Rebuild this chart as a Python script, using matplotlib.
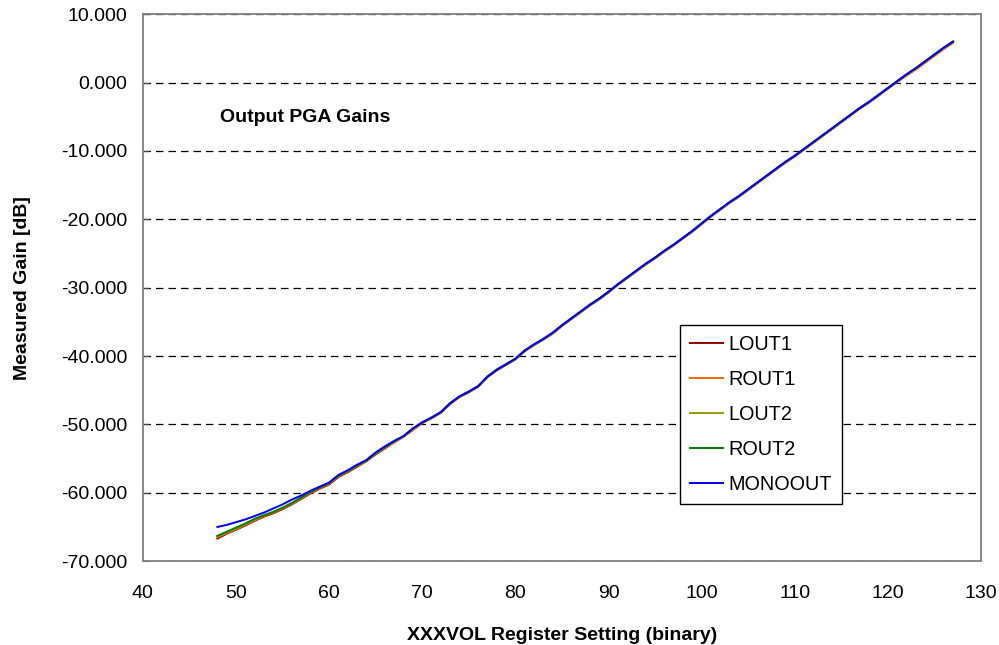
import matplotlib
matplotlib.use("Agg")
import matplotlib.pyplot as plt
from matplotlib.ticker import FormatStrFormatter, MultipleLocator

plt.rcParams["font.family"] = ["Liberation Sans", "DejaVu Sans"]

# =====================================
# DATA
# =====================================

register = list(range(48, 128))

lout1 = [
    -66.7, -66.0, -65.4, -64.8, -64.1, -63.5, -63.0, -62.4, -61.7, -60.9,
    -60.1, -59.4, -58.8, -57.7, -57.0, -56.2, -55.4, -54.4, -53.5, -52.6,
    -51.8, -50.8, -49.8, -49.1, -48.3, -47.0, -46.0, -45.3, -44.5, -43.1,
    -42.1, -41.3, -40.5, -39.3, -38.4, -37.6, -36.7, -35.6, -34.6, -33.6,
    -32.6, -31.7, -30.7, -29.6, -28.6, -27.6, -26.6, -25.7, -24.7, -23.8,
    -22.8, -21.8, -20.7, -19.6, -18.6, -17.6, -16.7, -15.7, -14.7, -13.7,
    -12.7, -11.7, -10.8, -9.8, -8.8, -7.8, -6.8, -5.8, -4.8, -3.8,
    -2.9, -1.9, -0.9, 0.1, 1.1, 2.0, 3.0, 4.0, 5.0, 5.9,
]
rout1 = [
    -66.5, -65.9, -65.3, -64.7, -64.0, -63.4, -62.9, -62.3, -61.6, -60.8,
    -60.0, -59.3, -58.7, -57.6, -56.9, -56.1, -55.4, -54.3, -53.4, -52.6,
    -51.8, -50.8, -49.8, -49.1, -48.3, -47.0, -46.0, -45.3, -44.5, -43.1,
    -42.1, -41.3, -40.5, -39.3, -38.4, -37.6, -36.7, -35.6, -34.6, -33.6,
    -32.6, -31.7, -30.7, -29.6, -28.6, -27.6, -26.6, -25.7, -24.7, -23.8,
    -22.8, -21.8, -20.7, -19.6, -18.6, -17.6, -16.7, -15.7, -14.7, -13.7,
    -12.7, -11.7, -10.8, -9.8, -8.8, -7.8, -6.8, -5.8, -4.8, -3.8,
    -2.9, -1.9, -0.9, 0.1, 1.0, 1.9, 2.9, 3.9, 4.9, 5.8,
]
lout2 = [
    -66.4, -65.8, -65.2, -64.6, -63.9, -63.3, -62.8, -62.2, -61.5, -60.7,
    -59.9, -59.2, -58.6, -57.5, -56.8, -56.0, -55.3, -54.2, -53.3, -52.5,
    -51.7, -50.6, -49.7, -49.0, -48.2, -46.9, -45.9, -45.2, -44.4, -43.0,
    -42.0, -41.2, -40.4, -39.2, -38.3, -37.5, -36.6, -35.5, -34.5, -33.5,
    -32.5, -31.6, -30.6, -29.5, -28.5, -27.5, -26.5, -25.6, -24.6, -23.7,
    -22.7, -21.7, -20.6, -19.5, -18.5, -17.5, -16.6, -15.6, -14.6, -13.6,
    -12.6, -11.6, -10.7, -9.7, -8.7, -7.7, -6.7, -5.7, -4.7, -3.7,
    -2.8, -1.8, -0.8, 0.2, 1.2, 2.1, 3.1, 4.1, 5.1, 6.0,
]
rout2 = [
    -66.3, -65.7, -65.1, -64.5, -63.8, -63.3, -62.8, -62.2, -61.5, -60.7,
    -59.9, -59.2, -58.6, -57.5, -56.8, -56.0, -55.3, -54.2, -53.3, -52.5,
    -51.7, -50.6, -49.7, -49.0, -48.2, -46.9, -45.9, -45.2, -44.4, -43.0,
    -42.0, -41.2, -40.4, -39.2, -38.3, -37.5, -36.6, -35.5, -34.5, -33.5,
    -32.5, -31.6, -30.6, -29.5, -28.5, -27.5, -26.5, -25.6, -24.6, -23.7,
    -22.7, -21.7, -20.6, -19.5, -18.5, -17.5, -16.6, -15.6, -14.6, -13.6,
    -12.6, -11.6, -10.7, -9.7, -8.7, -7.7, -6.7, -5.7, -4.7, -3.7,
    -2.8, -1.8, -0.8, 0.2, 1.2, 2.1, 3.1, 4.1, 5.1, 6.0,
]
monoout = [
    -65.0, -64.7, -64.3, -63.9, -63.4, -62.9, -62.3, -61.7, -61.0, -60.4,
    -59.7, -59.1, -58.5, -57.4, -56.7, -55.9, -55.2, -54.1, -53.2, -52.4,
    -51.7, -50.6, -49.7, -49.0, -48.2, -46.9, -45.9, -45.2, -44.4, -43.0,
    -42.0, -41.2, -40.4, -39.2, -38.3, -37.5, -36.6, -35.5, -34.5, -33.5,
    -32.5, -31.6, -30.6, -29.5, -28.5, -27.5, -26.5, -25.6, -24.6, -23.7,
    -22.7, -21.7, -20.6, -19.5, -18.5, -17.5, -16.6, -15.6, -14.6, -13.6,
    -12.6, -11.6, -10.7, -9.7, -8.7, -7.7, -6.7, -5.7, -4.7, -3.7,
    -2.8, -1.8, -0.8, 0.2, 1.2, 2.1, 3.1, 4.1, 5.1, 6.0,
]

series_names = ["LOUT1", "ROUT1", "LOUT2", "ROUT2", "MONOOUT"]
series_values = [lout1, rout1, lout2, rout2, monoout]
series_colors = ["#990000", "#ff6600", "#999900", "#008000", "#0000ff"]

# =====================================
# PLOT
# =====================================

fig = plt.figure(figsize=(9.99, 6.45), dpi=100)
ax = fig.add_axes([0.143, 0.130, 0.839, 0.848])

for name, vals, col in zip(series_names, series_values, series_colors):
    ax.plot(register, vals, color=col, linewidth=1.4, label=name)

ax.set_xlim(40, 130)
ax.set_ylim(-70, 10)
ax.xaxis.set_major_locator(MultipleLocator(10))
ax.yaxis.set_major_locator(MultipleLocator(10))
ax.yaxis.set_major_formatter(FormatStrFormatter("%.3f"))

ax.grid(axis="y", color="black", linestyle=(0, (6, 4)), linewidth=0.9)
ax.set_axisbelow(True)

for sp in ax.spines.values():
    sp.set_color("#808080")
    sp.set_linewidth(1.3)

ax.tick_params(axis="x", length=0, labelsize=14, pad=17)
ax.tick_params(axis="y", direction="in", length=4, color="#404040",
               labelsize=14, pad=11)

ax.set_xlabel("XXXVOL Register Setting (binary)", fontsize=14,
              fontweight="bold", labelpad=18)
ax.set_ylabel("Measured Gain [dB]", fontsize=14, fontweight="bold",
              labelpad=22)

ax.text(48.3, -5.1, "Output PGA Gains", fontsize=14, fontweight="bold",
        va="center", ha="left")

leg = ax.legend(loc="upper left", bbox_to_anchor=(0.641, 0.431),
                prop={"size": 14.3}, frameon=True, fancybox=False,
                framealpha=1, edgecolor="black", handlelength=1.65,
                handletextpad=0.3, labelspacing=0.8, borderpad=0.5,
                borderaxespad=0)
leg.get_frame().set_linewidth(1.0)

plt.savefig("out.png", dpi=100)
plt.close()
